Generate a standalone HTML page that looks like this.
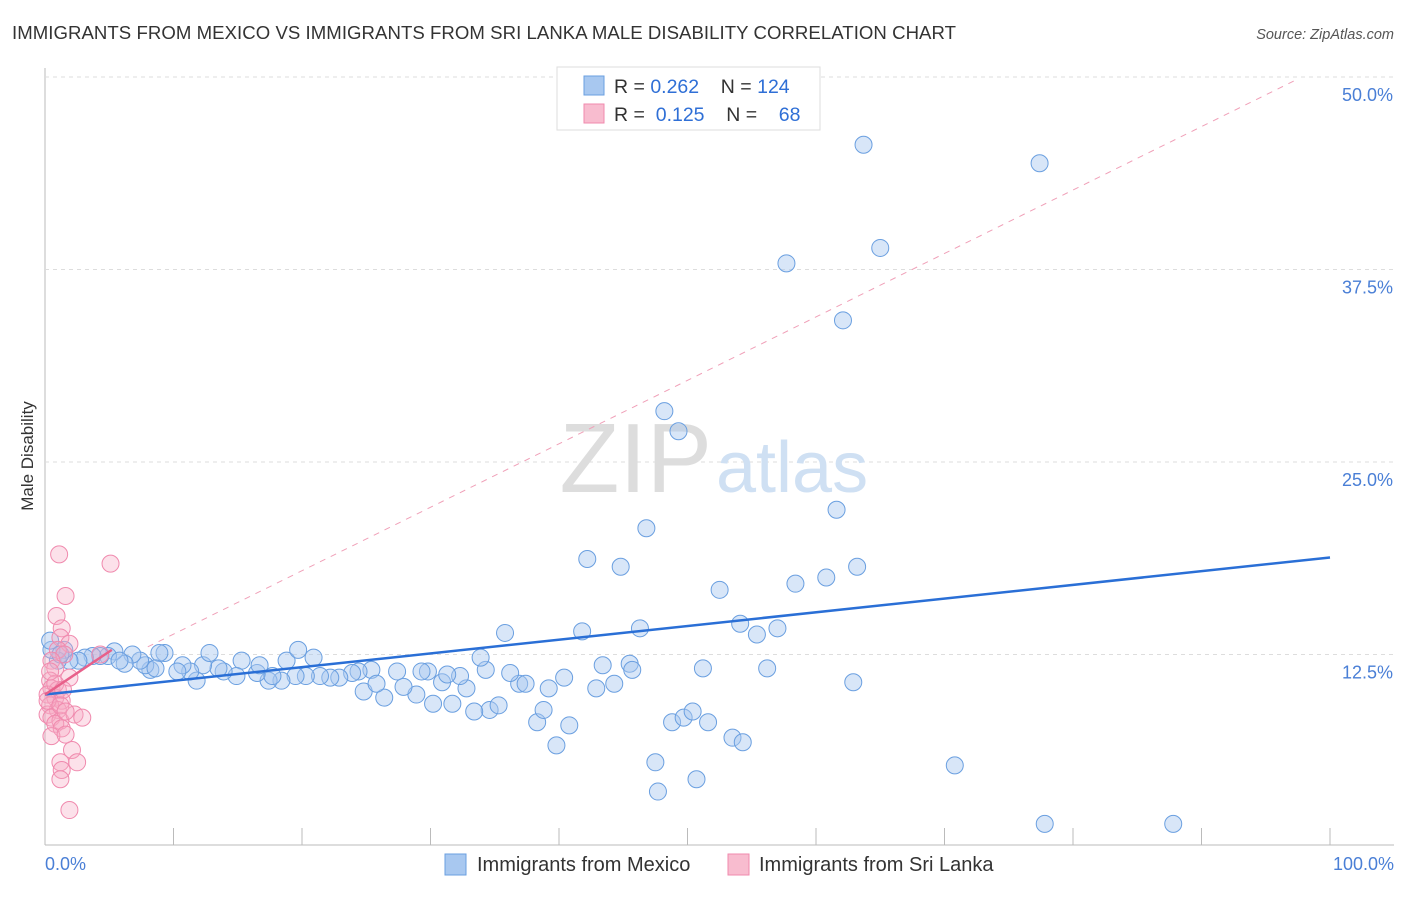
<!DOCTYPE html>
<html><head><meta charset="utf-8"><style>
body{margin:0;background:#fff;font-family:"Liberation Sans",sans-serif}
svg text{font-family:"Liberation Sans",sans-serif;white-space:pre}
</style></head><body>
<svg id="c" width="1406" height="892">
<text x="12" y="39" font-size="18.6" fill="#333" textLength="944">IMMIGRANTS FROM MEXICO VS IMMIGRANTS FROM SRI LANKA MALE DISABILITY CORRELATION CHART</text>
<text x="1394" y="39" font-size="14.5" fill="#555" font-style="italic" text-anchor="end">Source: ZipAtlas.com</text>
<text x="33" y="456" font-size="17" fill="#333" text-anchor="middle" transform="rotate(-90 33 456)">Male Disability</text>
<g id="grid"></g>
<text x="712" y="492" font-size="98" fill="#ddd" text-anchor="end" font-family="Liberation Serif">ZIP</text>
<text x="716" y="492" font-size="72" fill="#cfe0f3">atlas</text>
<g id="marks"></g>
<g>
<rect x="557" y="67" width="263" height="63" fill="#fff" stroke="#ddd"/>
<rect x="584" y="76" width="20" height="19" fill="#a8c8f0" stroke="#6a9fe0"/>
<rect x="584" y="104" width="20" height="19" fill="#f8bccf" stroke="#f08aae"/>
<text x="614" y="93" font-size="19.5" fill="#333" xml:space="preserve">R = <tspan fill="#2f6fd6">0.262</tspan>    N = <tspan fill="#2f6fd6">124</tspan></text>
<text x="614" y="121" font-size="19.5" fill="#333" xml:space="preserve">R =  <tspan fill="#2f6fd6">0.125</tspan>    N =    <tspan fill="#2f6fd6">68</tspan></text>
</g>
<text x="45" y="870" font-size="18" fill="#4a7fd6">0.0%</text>
<text x="1394" y="870" font-size="18" fill="#4a7fd6" text-anchor="end">100.0%</text>
<g>
<rect x="445" y="854" width="21" height="21" fill="#a8c8f0" stroke="#6a9fe0"/>
<text x="477" y="871" font-size="20" fill="#333">Immigrants from Mexico</text>
<rect x="728" y="854" width="21" height="21" fill="#f8bccf" stroke="#f08aae"/>
<text x="759" y="871" font-size="20" fill="#333">Immigrants from Sri Lanka</text>
</g>
</svg>
<script>
const yTicks=[12.5,25,37.5,50];
const yTickLabels=["12.5%","25.0%","37.5%","50.0%"];
const xTicks=[0,10,20,30,40,50,60,70,80,90,100];
const mexX=[63.7,77.4,65.0,57.7,62.1,48.2,49.3,46.8,61.6,42.2,44.8,63.2,60.8,58.4,52.5,54.1,57.0,55.4,46.3,41.8,35.8,51.2,56.2,45.5,45.7,43.4,62.9,70.8,77.8,87.8,47.5,47.7,50.7,39.8,48.8,49.7,50.4,51.6,53.5,54.3,38.3,38.8,40.8,34.6,33.4,35.3,31.7,30.2,28.9,26.4,24.8,27.9,30.9,32.8,36.9,37.4,39.2,40.4,42.9,44.3,34.3,36.2,33.9,32.3,31.3,29.8,29.3,27.4,25.4,24.4,23.9,22.9,22.2,21.4,20.3,19.5,18.8,19.7,20.9,18.4,17.4,16.5,17.7,16.7,15.3,14.9,13.9,13.5,12.3,12.8,11.8,11.3,10.7,10.3,9.3,8.9,8.2,7.8,7.4,6.8,6.2,5.4,4.9,4.3,3.7,3.1,2.6,1.9,1.5,1.0,0.5,0.4,1.2,5.8,8.6,25.8];
const mexY=[45.6,44.4,38.9,37.9,34.2,28.3,27.0,20.7,21.9,18.7,18.2,18.2,17.5,17.1,16.7,14.5,14.2,13.8,14.2,14.0,13.9,11.6,11.6,11.9,11.5,11.8,10.7,5.3,1.5,1.5,5.5,3.6,4.4,6.6,8.1,8.4,8.8,8.1,7.1,6.8,8.1,8.9,7.9,8.9,8.8,9.2,9.3,9.3,9.9,9.7,10.1,10.4,10.7,10.3,10.6,10.6,10.3,11.0,10.3,10.6,11.5,11.3,12.3,11.1,11.2,11.4,11.4,11.4,11.5,11.4,11.3,11.0,11.0,11.1,11.1,11.1,12.1,12.8,12.3,10.8,10.8,11.3,11.1,11.8,12.1,11.1,11.4,11.6,11.8,12.6,10.8,11.4,11.8,11.4,12.6,12.6,11.5,11.8,12.1,12.5,11.9,12.7,12.4,12.4,12.4,12.3,12.1,12.1,12.8,12.1,12.8,13.4,12.5,12.1,11.6,10.6];
const sriX=[1.1,5.1,1.6,0.9,1.3,1.2,1.9,1.0,1.5,0.5,0.8,1.9,0.4,0.5,1.0,0.2,0.8,1.3,0.4,1.0,0.2,0.5,1.2,2.3,2.9,0.8,1.3,0.5,1.6,2.1,1.2,1.3,1.2,2.5,1.9,0.2,0.8,1.4,0.4,1.2,1.6,4.3];
const sriY=[19.0,18.4,16.3,15.0,14.2,13.6,13.2,12.8,12.5,12.1,11.6,11.0,10.8,10.3,10.2,9.9,9.7,9.5,9.2,8.9,8.6,8.4,8.2,8.6,8.4,8.0,7.7,7.2,7.3,6.3,5.5,5.0,4.4,5.5,2.4,9.5,10.6,10.2,11.4,9.2,8.8,12.5];
const mexTrend=[9.9,18.8];
const sriTrend=[9.9,12.8,5.2];
const refLine=[9.7,0.412,8,97.3];

const X=v=>45+v*12.85, Y=v=>847-v*15.4;
const NS="http://www.w3.org/2000/svg";
const g=document.getElementById('grid'), m=document.getElementById('marks');
function mk(p,tag,a){const e=document.createElementNS(NS,tag);for(const k in a)e.setAttribute(k,a[k]);p.appendChild(e);return e;}
let ax=mk(g,'line',{x1:45,y1:68,x2:45,y2:845,stroke:'#bbb'});


let bx=mk(g,'line',{x1:45,y1:845,x2:1394,y2:845,stroke:'#bbb'});


yTicks.forEach((t,i)=>{
 const l=mk(g,'line',{x1:45,y1:Y(t),x2:1394,y2:Y(t),stroke:'#ddd','stroke-dasharray':'4,4'});
 
 
 const tx=mk(g,'text',{x:1393,y:Y(t)+24,'font-size':18,fill:'#4a7fd6','text-anchor':'end'});
 tx.textContent=yTickLabels[i];
 
 
});
xTicks.forEach(t=>{
 const l=mk(g,'line',{x1:X(t),y1:828,x2:X(t),y2:845,stroke:'#bbb'});
 
 
});
const rl=mk(m,'line',{x1:X(refLine[2]),y1:Y(refLine[0]+refLine[1]*refLine[2]),x2:X(refLine[3]),y2:Y(refLine[0]+refLine[1]*refLine[3]),stroke:'#f0a0b8','stroke-dasharray':'6,6','stroke-width':1});


mexX.forEach((v,i)=>{
 const c=mk(m,'circle',{cx:X(v),cy:Y(mexY[i]),r:8.5,fill:'rgba(168,200,240,0.45)',stroke:'#6a9fe0','stroke-width':1});
 
 
});
sriX.forEach((v,i)=>{
 const c=mk(m,'circle',{cx:X(v),cy:Y(sriY[i]),r:8.5,fill:'rgba(246,170,196,0.35)',stroke:'#f08aae','stroke-width':1});
 
 
});
const bt=mk(m,'line',{x1:X(0),y1:Y(mexTrend[0]),x2:X(100),y2:Y(mexTrend[1]),stroke:'#2a6fd6','stroke-width':2.5});


const pt=mk(m,'line',{x1:X(0),y1:Y(sriTrend[0]),x2:X(sriTrend[2]),y2:Y(sriTrend[1]),stroke:'#e8608a','stroke-width':2.5});


</script>
</body></html>
